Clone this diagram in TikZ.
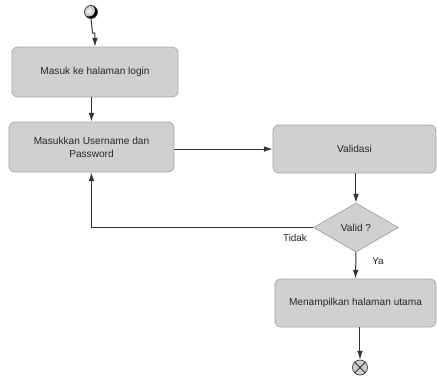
\documentclass[tikz,border=0pt]{standalone}
\usepackage{fontspec}
\setmainfont{Liberation Sans}
\usetikzlibrary{shapes.geometric,arrows.meta}
\definecolor{actfill}{HTML}{D0D0D0}
\definecolor{actdraw}{HTML}{A8A8A8}
\definecolor{flow}{HTML}{333333}
\tikzset{
  activity/.style={draw=actdraw, fill=actfill, rounded corners=4.5pt, line width=0.6pt,
    font=\fontsize{7.6}{9.6}\selectfont, text=black!85, align=center, inner sep=0pt},
  decision/.style={diamond, draw=actdraw, fill=actfill, line width=0.6pt,
    font=\fontsize{7.6}{9.6}\selectfont, text=black!85, inner sep=0pt, aspect=1.73},
  flowline/.style={draw=flow, line width=0.75pt},
  arr/.style={flowline, -{Latex[length=6.5pt,width=4.2pt]}},
  guard/.style={font=\fontsize{7.4}{9}\selectfont, text=black!85},
}
\begin{document}
\begin{tikzpicture}[x=0.75pt,y=-0.75pt]
\useasboundingbox (0,0) rectangle (437,376);

% initial state: light sphere with a dark crescent on its lower right
\node[circle, minimum size=9.8pt, inner sep=0pt] (start) at (91,12) {};
\begin{scope}
  \clip (start.center) circle[radius=4.9pt];
  \fill[black] (start.center) circle[radius=4.9pt];
  \shade[inner color=white, outer color=black!30]
    ([shift={(-1.5pt,1.1pt)}]start.center) circle[radius=4.5pt];
\end{scope}
\draw[black!75, line width=0.5pt] (start.center) circle[radius=4.9pt];

% final state
\node[circle, minimum size=15pt*0.75, inner sep=0pt, draw=black!70, line width=0.6pt,
  fill=actfill] (finish) at (360,367.5) {};
\draw[black!80, line width=0.7pt] (finish.north east) -- (finish.south west)
  (finish.north west) -- (finish.south east);

% activities
\node[activity, minimum width=166pt*0.75, minimum height=50pt*0.75] (login) at (95,72)
  {Masuk ke halaman login};
\node[activity, minimum width=165pt*0.75, minimum height=50pt*0.75] (input) at (91.5,147)
  {Masukkan Username dan\\Password};
\node[activity, minimum width=163pt*0.75, minimum height=48pt*0.75] (valid) at (354.5,149)
  {Validasi};
\node[decision, minimum width=85pt*0.75, minimum height=49pt*0.75] (check) at (356,227.5)
  {Valid ?};
\node[activity, minimum width=161pt*0.75, minimum height=48pt*0.75] (home) at (355.5,303)
  {Menampilkan halaman utama};

% control flow
\coordinate (bend) at (92.5,33);
\draw[arr] (start.south) -- (bend) -| (login.north);
\draw[arr] (login.south -| input.north) -- (input.north);
\draw[arr] (input.east |- valid.west) -- (valid.west);
\draw[arr] (valid.south -| check.north) -- (check.north);
\draw[arr] (check.west) -| (input.south);
\draw[arr] (check.south) -- (home.north);
\draw[arr] (home.south -| finish.north) -- (finish.north);

% guards
\node[guard] (no) at (295,238) {Tidak};
\node[guard] (yes) at (378,261) {Ya};
\end{tikzpicture}
\end{document}
